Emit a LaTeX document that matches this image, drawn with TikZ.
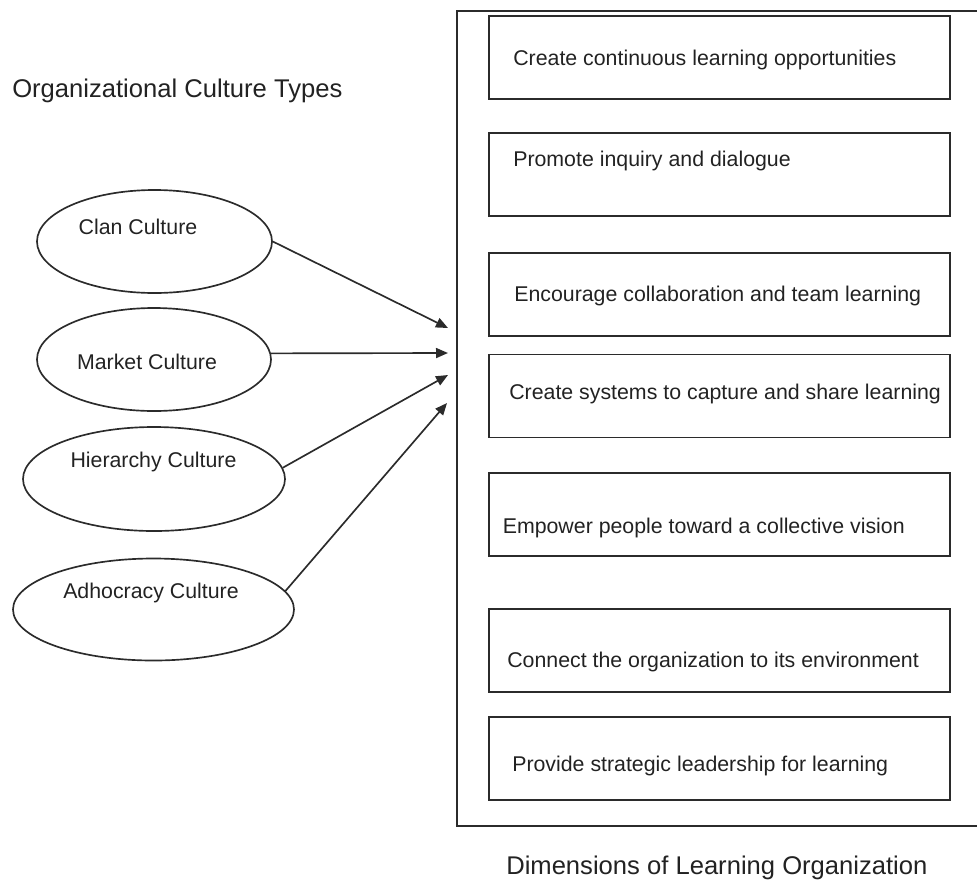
\documentclass[tikz,border=0pt]{standalone}
\usepackage{fontspec}
\setmainfont{Liberation Sans}
\usetikzlibrary{shapes.geometric,arrows.meta}
\definecolor{ink}{HTML}{222222}
\definecolor{edge}{HTML}{2B2B2B}
\begin{document}
\begin{tikzpicture}[x=0.75pt,y=-0.75pt,
  ln/.style={line width=1.25pt,draw=edge},
  dimbox/.style={ln,rectangle,minimum width=345.75pt,minimum height=62.25pt,inner sep=0pt},
  culture/.style={ln,ellipse,inner sep=0pt},
  lbl/.style={inner sep=0pt,text=ink,font=\fontsize{16pt}{18pt}\selectfont},
  ttl/.style={inner sep=0pt,text=ink,font=\fontsize{19.2pt}{22pt}\selectfont,anchor=base west},
  arr/.style={ln,-{Triangle[length=9pt,width=7.5pt]}}]
\useasboundingbox (0,0) rectangle (977,879);

% titles
\node[ttl] (ttlLeft) at (12,97) {Organizational Culture Types};
\node[ttl] (ttlRight) at (506,874) {Dimensions of Learning Organization};

% outer frame (right side lies beyond the picture)
\coordinate (frTR) at (980,11);
\coordinate (frTL) at (457,11);
\coordinate (frBL) at (457,826);
\coordinate (frBR) at (980,826);
\draw[ln] (frTR) -- (frTL) -- (frBL) -- (frBR);

% dimension boxes
\node[dimbox] (d1) at (719.5,57.5) {};
\node[dimbox] (d2) at (719.5,174.5) {};
\node[dimbox] (d3) at (719.5,294.5) {};
\node[dimbox] (d4) at (719.5,396) {};
\node[dimbox] (d5) at (719.5,514.5) {};
\node[dimbox] (d6) at (719.5,650.5) {};
\node[dimbox] (d7) at (719.5,758.5) {};

\node[lbl,anchor=base west] (t1) at (513,65.5) {Create continuous learning opportunities};
\node[lbl,anchor=base west] (t2) at (513,166.5) {Promote inquiry and dialogue};
\node[lbl,anchor=base west] (t3) at (514,301.5) {Encourage collaboration and team learning};
\node[lbl,anchor=base west] (t4) at (509,399) {Create systems to capture and share learning};
\node[lbl,anchor=base west] (t5) at (502.5,533) {Empower people toward a collective vision};
\node[lbl,anchor=base west] (t6) at (507,667) {Connect the organization to its environment};
\node[lbl,anchor=base west] (t7) at (512,771) {Provide strategic leadership for learning};

% culture ellipses
\node[culture,minimum width=176.25pt,minimum height=77.25pt] (clan) at (154.5,241.5) {};
\node[culture,minimum width=175.5pt,minimum height=77.25pt] (market) at (154,359.5) {};
\node[culture,minimum width=196.5pt,minimum height=78pt] (hier) at (154,479) {};
\node[culture,minimum width=210.75pt,minimum height=76.5pt] (adho) at (153.5,609.5) {};

\node[lbl,anchor=base] (clanT) at (138,234) {Clan Culture};
\node[lbl,anchor=base] (marketT) at (147,369) {Market Culture};
\node[lbl,anchor=base] (hierT) at (153.5,467) {Hierarchy Culture};
\node[lbl,anchor=base] (adhoT) at (151,598) {Adhocracy Culture};

% arrow targets
\coordinate (g1) at (448,328);
\coordinate (g2) at (448,353);
\coordinate (g3) at (448,375);
\coordinate (g4) at (447,403);

\draw[arr] (clan.0) -- (g1);
\draw[arr] (market.3.2) -- (g2);
\draw[arr] (hier.5.2) -- (g3);
\draw[arr] (adho.8.4) -- (g4);
\end{tikzpicture}
\end{document}
